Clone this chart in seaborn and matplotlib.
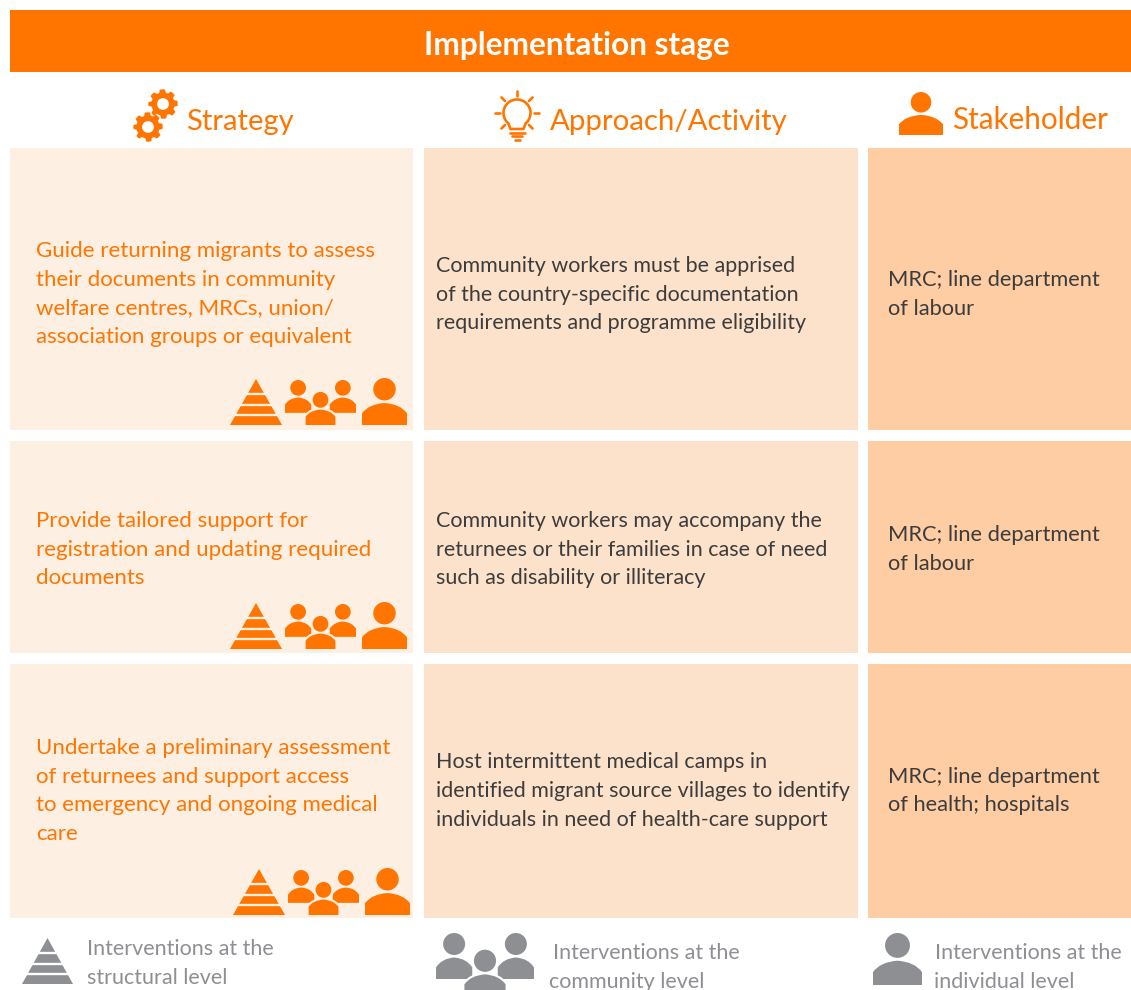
import numpy as np
import matplotlib
matplotlib.use("Agg")
import matplotlib.pyplot as plt
from matplotlib.patches import Rectangle, Circle, PathPatch, Polygon
from matplotlib.path import Path
import seaborn as sns

sns.set_theme(style="white")
plt.rcParams['font.family'] = ['Lato', 'DejaVu Sans']

ORANGE = "#FF7500"
GREY = "#8E8F93"
PANELS = ["#FEEFE3", "#FDE2CB", "#FFCDA3"]

title = "Implementation stage"
headers = ["Strategy", "Approach/Activity", "Stakeholder"]
strategy_lines = [
    ["Guide returning migrants to assess", "their documents in community",
     "welfare centres, MRCs, union/", "association groups or equivalent"],
    ["Provide tailored support for", "registration and updating required", "documents"],
    ["Undertake a preliminary assessment", "of returnees and support access",
     "to emergency and ongoing medical", "care"],
]
approach_lines = [
    ["Community workers must be apprised", "of the country-specific documentation",
     "requirements and programme eligibility"],
    ["Community workers may accompany the", "returnees or their families in case of need",
     "such as disability or illiteracy"],
    ["Host intermittent medical camps in", "identified migrant source villages to identify",
     "individuals in need of health-care support"],
]
stakeholder_lines = [
    ["MRC; line department", "of labour"],
    ["MRC; line department", "of labour"],
    ["MRC; line department", "of health; hospitals"],
]
legend_lines = [
    ["Interventions at the", "structural level"],
    ["Interventions at the", "community level"],
    ["Interventions at the", "individual level"],
]

col_edges = [(10, 413), (424, 858), (868, 1131)]
row_edges = [(148, 430), (441, 653), (664, 918)]
strategy_base = [[257, 286, 314, 343], [527, 556, 584], [754, 783, 811, 840]]
approach_base = [[272, 301, 329], [527, 556, 584], [768, 797, 826]]
stake_base = [[286, 315], [541, 570], [783, 811]]
text_x = [36, 436, 888]
icon_rows = [(230, 285, 362, 378, 425), (230, 285, 362, 602, 649), (233, 288, 365, 868, 915)]

fig = plt.figure(figsize=(11.31, 9.9), dpi=100, facecolor="white")
ax = fig.add_axes([0, 0, 1, 1])
ax.set_xlim(0, 1131)
ax.set_ylim(990, 0)
ax.axis("off")


def person(cx, top, w, h, color, halo=None, z=3):
    sc = h / 46.0
    r = 11 * sc
    hw = w / 2
    by0 = top + 24.5 * sc
    by1 = top + h
    verts = [(cx - hw, by1), (cx - hw, by0 + 10 * sc),
             (cx - hw * 0.7, by0 + 1 * sc), (cx, by0), (cx + hw * 0.7, by0 + 1 * sc),
             (cx + hw, by0 + 10 * sc), (cx + hw, by1), (cx - hw, by1)]
    codes = [Path.MOVETO, Path.LINETO, Path.CURVE3, Path.CURVE3, Path.CURVE3, Path.CURVE3,
             Path.LINETO, Path.CLOSEPOLY]
    if halo:
        ax.add_patch(PathPatch(Path(verts, codes), fc=halo, ec=halo, lw=3, zorder=z))
        ax.add_patch(Circle((cx, top + r), r, fc=halo, ec=halo, lw=3, zorder=z))
    ax.add_patch(PathPatch(Path(verts, codes), fc=color, ec="none", zorder=z + 0.5))
    ax.add_patch(Circle((cx, top + r), r, fc=color, ec="none", zorder=z + 0.5))


def group(x0, x1, top, bottom, color, bg):
    w = x1 - x0
    h = bottom - top
    pw = w * 0.37
    ph = h * 0.73
    person(x0 + pw / 2, top, pw, ph, color, None, 3)
    person(x1 - pw / 2, top, pw, ph, color, None, 3)
    person((x0 + x1) / 2, top + h * 0.265, w * 0.42, h * 0.735, color, bg, 4)


def pyramid(x0, x1, top, bottom, color, bg):
    cx = (x0 + x1) / 2
    ax.add_patch(Polygon([(cx, top), (x1, bottom), (x0, bottom)], fc=color, ec="none", zorder=3))
    h = bottom - top
    for f in [0.32, 0.555, 0.79]:
        y = top + h * f
        ax.plot([x0, x1], [y, y], color=bg, lw=1.7, zorder=4, solid_capstyle="butt")


def gear(cx, cy, r, color):
    teeth = 8
    ang = np.linspace(0, 2 * np.pi, teeth * 8, endpoint=False)
    phase = (ang * teeth / (2 * np.pi)) % 1
    rad = np.where((phase < 0.25) | (phase >= 0.75), r, r * 0.78)
    pts = np.c_[cx + rad * np.cos(ang), cy + rad * np.sin(ang)]
    ax.add_patch(Polygon(pts, fc=color, ec=color, lw=1.0, zorder=3, joinstyle="round"))
    ax.add_patch(Circle((cx, cy), r * 0.42, fc="white", ec="none", zorder=4))


def bulb(cx, cy, color):
    r = 13.5
    theta = np.radians(np.linspace(-50, 230, 60))
    xs = cx + r * np.cos(theta)
    ys = cy - r * np.sin(theta)
    ax.plot(xs, ys, color=color, lw=1.9, zorder=3)
    ax.plot([xs[0], cx + 6.5, cx - 6.5, xs[-1]], [ys[0], cy + 16, cy + 16, ys[-1]],
            color=color, lw=1.9, zorder=3)
    for dy, hw in [(19.5, 7.5), (23, 5), (26.5, 2.5)]:
        ax.plot([cx - hw, cx + hw], [cy + dy, cy + dy], color=color, lw=1.9, zorder=3)
    for a in [0, 45, 90, 135, 180, -45, 225]:
        c, s = np.cos(np.radians(a)), np.sin(np.radians(a))
        ax.plot([cx + 17 * c, cx + 22 * c], [cy - 17 * s, cy - 22 * s], color=color, lw=1.9, zorder=3)


# banner and panels
ax.add_patch(Rectangle((10, 10), 1121, 62, fc=ORANGE, ec="none"))
ax.text(577, 45.5, title, color="white", fontsize=22.8, fontweight="bold", ha="center", va="center")
for (x0, x1), c in zip(col_edges, PANELS):
    for (y0, y1) in row_edges:
        ax.add_patch(Rectangle((x0, y0), x1 - x0, y1 - y0, fc=c, ec="none", zorder=1))

# headers
ax.text(186, 130, headers[0], color=ORANGE, fontsize=21.0, va="baseline")
ax.text(550, 130, headers[1], color=ORANGE, fontsize=21.2, va="baseline")
ax.text(952, 129, headers[2], color=ORANGE, fontsize=21.3, va="baseline")
gear(163, 104, 14, ORANGE)
gear(148, 127, 14, ORANGE)
bulb(517, 113, ORANGE)
person(921, 92, 44, 43, ORANGE)

# body text
for lines, bases, x, col, fs in [(strategy_lines, strategy_base, text_x[0], ORANGE, 16),
                                 (approach_lines, approach_base, text_x[1], "#3C3C3C", 15.5),
                                 (stakeholder_lines, stake_base, text_x[2], "#3C3C3C", 15.75)]:
    for rl, rb in zip(lines, bases):
        for t, b in zip(rl, rb):
            ax.text(x, b, t, color=col, fontsize=fs, va="baseline")

# row icons
for (px, gx, ix, top, bot) in icon_rows:
    pyramid(px, px + 52, top + 1, bot, ORANGE, PANELS[0])
    group(gx, gx + 71, top + 2, bot, ORANGE, PANELS[0])
    person(ix + 22.5, top, 45, bot - top, ORANGE)

# legend
pyramid(22, 73, 938, 984, GREY, "white")
group(436, 534, 933, 996, GREY, "white")
person(897.5, 933, 49, 52, GREY)
leg_x = [(87, 87), (553, 549), (935, 934)]
leg_base = [(955, 984), (959, 988), (959, 988)]
for ls, xs, bs in zip(legend_lines, leg_x, leg_base):
    for t, x, b in zip(ls, xs, bs):
        ax.text(x, b, t, color=GREY, fontsize=15.5, va="baseline")

fig.savefig("out.png", dpi=100, facecolor="white")
